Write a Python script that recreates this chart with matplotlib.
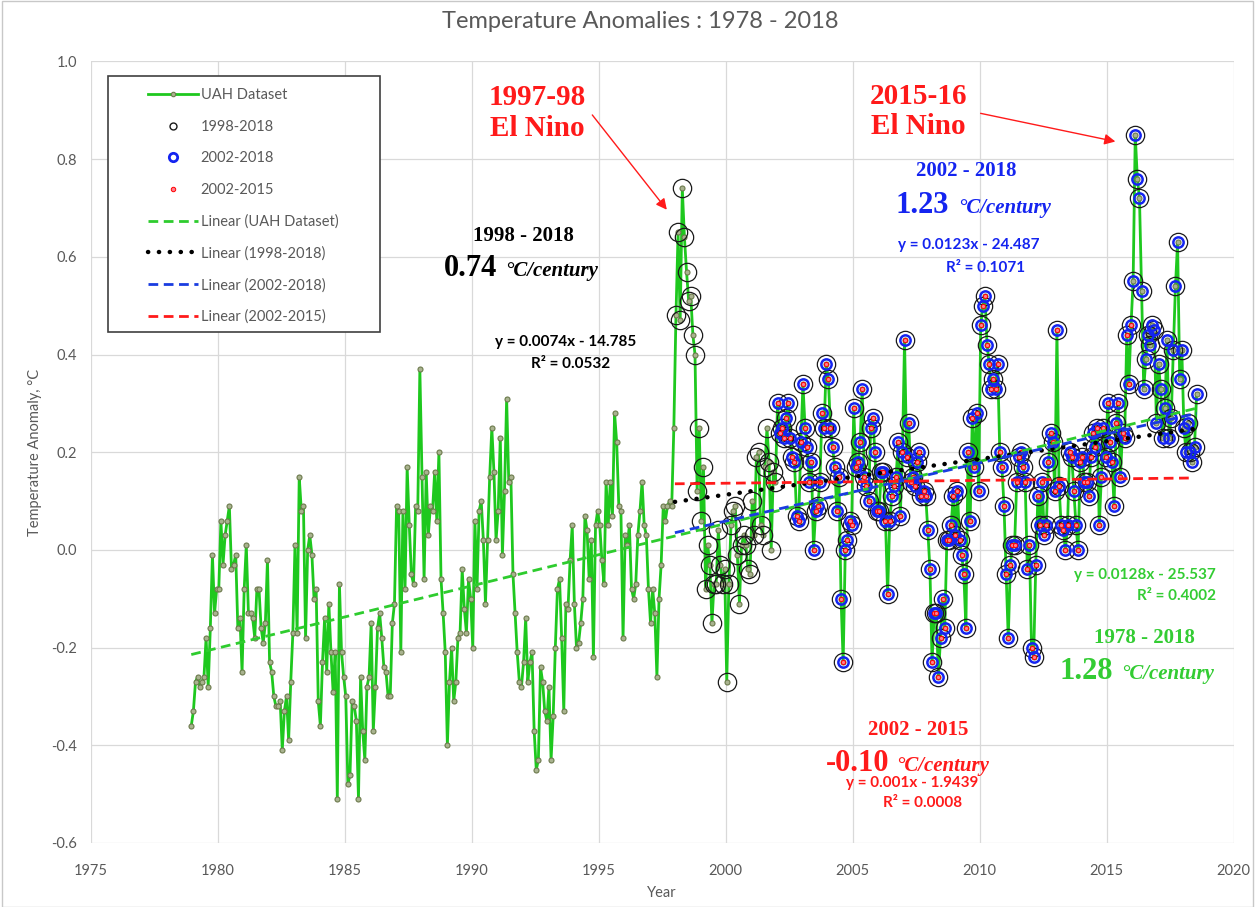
import numpy as np
import matplotlib
matplotlib.use('Agg')
import matplotlib.pyplot as plt
from matplotlib.lines import Line2D
from matplotlib.patches import Rectangle

plt.rcParams['font.family'] = ['Lato', 'DejaVu Sans']

# monthly UAH lower-troposphere anomalies (deg C)
first_year, first_month = 1978, 12
v1978 = [-0.36]
v1979 = [-0.33, -0.27, -0.26, -0.28, -0.27, -0.26, -0.18, -0.28, -0.16, -0.01, -0.13, -0.08]
v1980 = [-0.08, 0.06, -0.03, 0.03, 0.06, 0.09, -0.04, -0.03, -0.01, -0.16, -0.14, -0.25]
v1981 = [-0.08, 0.01, -0.13, -0.13, -0.14, -0.18, -0.08, -0.08, -0.16, -0.19, -0.15, -0.02]
v1982 = [-0.23, -0.25, -0.30, -0.32, -0.32, -0.31, -0.41, -0.33, -0.30, -0.39, -0.27, -0.17]
v1983 = [0.01, -0.17, 0.15, 0.08, 0.09, -0.18, 0.00, 0.03, -0.01, -0.10, -0.08, -0.31]
v1984 = [-0.36, -0.23, -0.14, -0.25, -0.11, -0.21, -0.29, -0.21, -0.51, -0.07, -0.21, -0.26]
v1985 = [-0.30, -0.48, -0.46, -0.31, -0.32, -0.35, -0.51, -0.26, -0.37, -0.43, -0.28, -0.26]
v1986 = [-0.15, -0.37, -0.28, -0.16, -0.13, -0.18, -0.24, -0.25, -0.30, -0.30, -0.15, -0.11]
v1987 = [0.09, 0.08, -0.21, 0.08, -0.08, 0.17, 0.05, -0.05, -0.07, 0.09, 0.08, 0.37]
v1988 = [0.15, -0.06, 0.16, 0.03, 0.09, 0.08, 0.16, 0.06, 0.20, -0.06, -0.13, -0.21]
v1989 = [-0.40, -0.27, -0.20, -0.31, -0.27, -0.18, -0.17, -0.04, -0.12, -0.17, -0.06, -0.10]
v1990 = [-0.20, 0.06, -0.08, 0.08, 0.10, 0.02, -0.11, 0.02, 0.15, 0.25, 0.16, 0.02]
v1991 = [0.08, 0.23, -0.01, 0.12, 0.31, 0.14, 0.15, -0.05, -0.13, -0.21, -0.27, -0.28]
v1992 = [-0.23, -0.14, -0.27, -0.23, -0.21, -0.37, -0.45, -0.43, -0.24, -0.27, -0.33, -0.35]
v1993 = [-0.28, -0.43, -0.34, -0.20, -0.08, -0.06, -0.18, -0.33, -0.11, -0.12, -0.02, 0.05]
v1994 = [-0.11, -0.20, -0.19, -0.15, -0.10, 0.07, 0.04, -0.06, 0.02, -0.22, 0.05, 0.08]
v1995 = [0.05, -0.02, -0.07, 0.14, 0.05, 0.14, 0.07, 0.28, 0.22, 0.09, 0.08, -0.18]
v1996 = [0.03, 0.01, 0.05, -0.08, -0.10, -0.07, 0.03, 0.08, 0.14, 0.05, 0.03, -0.08]
v1997 = [-0.15, -0.08, -0.13, -0.26, -0.10, -0.03, 0.09, 0.06, 0.09, 0.10, 0.09, 0.25]
v1998 = [0.48, 0.65, 0.47, 0.74, 0.64, 0.57, 0.51, 0.52, 0.44, 0.40, 0.12, 0.25]
v1999 = [0.06, 0.17, -0.08, 0.01, -0.03, -0.15, -0.07, -0.07, 0.04, -0.03, -0.07, -0.04]
v2000 = [-0.27, -0.07, 0.05, 0.08, 0.09, -0.01, -0.11, 0.01, 0.03, 0.01, -0.04, -0.05]
v2001 = [0.10, 0.03, 0.19, 0.20, 0.05, 0.03, 0.17, 0.25, 0.18, 0.00, 0.16, 0.14]
v2002 = [0.30, 0.24, 0.25, 0.23, 0.27, 0.30, 0.23, 0.19, 0.18, 0.07, 0.06, 0.22]
v2003 = [0.34, 0.25, 0.21, 0.14, 0.18, 0.00, 0.08, 0.09, 0.14, 0.28, 0.25, 0.38]
v2004 = [0.35, 0.25, 0.21, 0.17, 0.08, 0.15, -0.10, -0.23, 0.00, 0.02, 0.06, 0.05]
v2005 = [0.29, 0.17, 0.18, 0.22, 0.33, 0.15, 0.13, 0.10, 0.25, 0.27, 0.20, 0.08]
v2006 = [0.08, 0.16, 0.16, 0.06, -0.09, 0.06, 0.11, 0.13, 0.15, 0.22, 0.07, 0.20]
v2007 = [0.43, 0.19, 0.26, 0.14, 0.15, 0.13, 0.18, 0.20, 0.11, 0.12, 0.11, 0.04]
v2008 = [-0.04, -0.23, -0.13, -0.13, -0.26, -0.18, -0.10, -0.16, 0.02, 0.02, 0.05, 0.11]
v2009 = [0.03, 0.12, 0.02, -0.01, -0.05, -0.16, 0.20, 0.06, 0.27, 0.17, 0.28, 0.12]
v2010 = [0.46, 0.50, 0.52, 0.42, 0.38, 0.33, 0.35, 0.33, 0.38, 0.20, 0.17, 0.09]
v2011 = [-0.05, -0.18, -0.03, 0.01, 0.01, 0.14, 0.19, 0.20, 0.17, 0.14, -0.04, 0.01]
v2012 = [-0.20, -0.22, -0.03, 0.11, 0.05, 0.14, 0.03, 0.05, 0.18, 0.24, 0.22, 0.12]
v2013 = [0.45, 0.13, 0.05, 0.04, 0.00, 0.05, 0.20, 0.19, 0.12, 0.05, 0.00, 0.18]
v2014 = [0.19, 0.14, 0.14, 0.11, 0.19, 0.24, 0.21, 0.25, 0.05, 0.15, 0.25, 0.19]
v2015 = [0.30, 0.22, 0.18, 0.09, 0.26, 0.30, 0.15, 0.24, 0.23, 0.44, 0.34, 0.46]
v2016 = [0.55, 0.85, 0.76, 0.72, 0.53, 0.33, 0.39, 0.44, 0.42, 0.46, 0.45, 0.26]
v2017 = [0.38, 0.33, 0.23, 0.29, 0.43, 0.23, 0.27, 0.41, 0.54, 0.63, 0.35, 0.41]
v2018 = [0.25, 0.20, 0.26, 0.20, 0.18, 0.21, 0.32]

years_data = [v1978, v1979, v1980, v1981, v1982, v1983, v1984, v1985, v1986, v1987,
              v1988, v1989, v1990, v1991, v1992, v1993, v1994, v1995, v1996, v1997,
              v1998, v1999, v2000, v2001, v2002, v2003, v2004, v2005, v2006, v2007,
              v2008, v2009, v2010, v2011, v2012, v2013, v2014, v2015, v2016, v2017, v2018]
anom = np.array([v for yr in years_data for v in yr])
t = first_year + (first_month - 0.5) / 12 + np.arange(len(anom)) / 12.0

m98 = t >= 1998
m02 = t >= 2002
m0215 = (t >= 2002) & (t < 2016)

green = '#1ec81e'
blue = '#1424f0'
red = '#ff1a1a'
grey_txt = '#595959'

fig = plt.figure(figsize=(12.55, 9.07), dpi=100)
ax = fig.add_axes([0.0723, 0.0706, 0.9107, 0.8616])

ax.plot(t, anom, color=green, lw=2.0, marker='o', ms=3.6, mfc='#a9b38f', mec='#6d7a4d',
        mew=0.8, zorder=2)
ax.plot(t[m98], anom[m98], ls='none', marker='o', ms=13.2, mfc='none', mec='#1a1a1a',
        mew=0.9, zorder=3)
ax.plot(t[m02], anom[m02], ls='none', marker='o', ms=7.4, mfc='none', mec=blue,
        mew=1.8, zorder=4)
ax.plot(t[m0215], anom[m0215], ls='none', marker='o', ms=3.0, mfc='#ff7f90', mec='#ff0000',
        mew=0.7, zorder=5)

# linear trends
def trend(mask, x0, x1):
    k, b = np.polyfit(t[mask], anom[mask], 1)
    xx = np.array([x0, x1])
    return xx, k * xx + b

all_mask = np.ones_like(t, dtype=bool)
xx, yy = trend(all_mask, t[0], t[-1])
ax.plot(xx, yy, color='#2ecc2e', lw=2.0, ls=(0, (3.5, 2)), zorder=6)
xx, yy = trend(m98, 1998.0, t[-1])
ax.plot(xx, yy, color='black', lw=3.2, ls=(0, (0.05, 2.4)), dash_capstyle='round', zorder=6)
xx, yy = trend(m02, 1998.0, t[-1])
ax.plot(xx, yy, color='#1a3ce0', lw=2.0, ls=(0, (3.5, 2)), zorder=6)
xx, yy = trend(m0215, 1998.0, t[m0215][-1] + 2.4)
ax.plot(xx, yy, color=red, lw=2.0, ls=(0, (3.5, 2)), zorder=6)

ax.set_xlim(1975, 2020)
ax.set_ylim(-0.6, 1.0)
ax.set_xticks(np.arange(1975, 2021, 5))
ax.set_yticks(np.round(np.arange(-0.6, 1.01, 0.2), 1))
ax.set_yticklabels([f'{v:.1f}' for v in np.arange(-0.6, 1.01, 0.2)])
ax.grid(True, color='#d9d9d9', lw=0.9)
ax.set_axisbelow(True)
for s in ax.spines.values():
    s.set_visible(False)
ax.tick_params(axis='both', length=0, labelsize=10.5, colors=grey_txt)
ax.tick_params(axis='y', pad=10)
ax.tick_params(axis='x', pad=15)
ax.set_ylabel('Temperature Anomaly, °C', fontsize=10.5, color=grey_txt)
ax.yaxis.set_label_coords(-0.0426, 0.5)
ax.set_xlabel('Year', fontsize=10.5, color=grey_txt)
ax.xaxis.set_label_coords(0.5, -0.055)

fig.text(640 / 1255, 1 - 22 / 907, 'Temperature Anomalies : 1978 - 2018', ha='center',
         va='center', fontsize=17, color=grey_txt)

# legend
handles = [
    Line2D([], [], color=green, lw=2.0, marker='o', ms=3.2, mfc='#a9b38f', mec='#6d7a4d', mew=0.8),
    Line2D([], [], ls='none', marker='o', ms=5, mfc='none', mec='#1a1a1a', mew=1.0),
    Line2D([], [], ls='none', marker='o', ms=6, mfc='none', mec=blue, mew=2.0),
    Line2D([], [], ls='none', marker='o', ms=3.2, mfc='#ff7f90', mec='#ff0000', mew=0.7),
    Line2D([], [], color='#2ecc2e', lw=2.0, ls=(0, (3.5, 2))),
    Line2D([], [], color='black', lw=3.2, ls=(0, (0.05, 2.4)), dash_capstyle='round'),
    Line2D([], [], color='#1a3ce0', lw=2.0, ls=(0, (3.5, 2))),
    Line2D([], [], color=red, lw=2.0, ls=(0, (3.5, 2))),
]
labels = ['UAH Dataset', '1998-2018', '2002-2018', '2002-2015', 'Linear (UAH Dataset)',
          'Linear (1998-2018)', 'Linear (2002-2018)', 'Linear (2002-2015)']
frame = Rectangle((107.7 / 1255, 1 - 331.7 / 907), (380 - 107.7) / 1255, (331.7 - 76) / 907,
                  transform=fig.transFigure, fc='white', ec='#404040', lw=1.2, zorder=8)
ax.add_patch(frame)
leg = ax.legend(handles, labels, loc='upper left', bbox_to_anchor=(141 / 1255, 1 - 81 / 907),
                bbox_transform=fig.transFigure, frameon=False, fontsize=10.5, borderpad=0,
                labelspacing=1.2, handlelength=3.4, handletextpad=0.2, numpoints=1)
for txt in leg.get_texts():
    txt.set_color(grey_txt)
leg.set_zorder(10)

serif = 'Liberation Serif'

def head(x, y, s, c, size):
    ax.text(x, y, s, ha='center', va='center', fontsize=size, color=c, family=serif,
            weight='bold', zorder=9)

def rate(x_num, x_unit, y, num, c):
    ax.text(x_num, y, num, ha='right', va='baseline', fontsize=22, color=c, family=serif,
            weight='bold', zorder=9)
    ax.text(x_unit, y, '°C/century', ha='left', va='baseline', fontsize=15, color=c,
            family=serif, weight='bold', style='italic', zorder=9)

def eqn(x, y, s, c):
    ax.text(x, y, s, ha='center', va='center', fontsize=11, color=c, weight='bold', zorder=9)

head(1992.59, 0.927, '1997-98', red, 21)
head(1992.59, 0.862, 'El Nino', red, 21)
head(2007.60, 0.929, '2015-16', red, 21)
head(2007.60, 0.866, 'El Nino', red, 21)
ax.annotate('', xy=(1997.75, 0.692), xytext=(1994.68, 0.895),
            arrowprops=dict(arrowstyle='-|>', color=red, lw=1.0, mutation_scale=16), zorder=9)
ax.annotate('', xy=(2015.45, 0.835), xytext=(2009.93, 0.895),
            arrowprops=dict(arrowstyle='-|>', color=red, lw=1.0, mutation_scale=16), zorder=9)

head(1992.04, 0.643, '1998 - 2018', 'black', 15)
rate(1991.02, 1991.33, 0.560, '0.74', 'black')
eqn(1993.69, 0.426, 'y = 0.0074x - 14.785', 'black')
eqn(1993.89, 0.381, 'R² = 0.0532', 'black')

head(2009.46, 0.776, '2002 - 2018', blue, 15)
rate(2008.80, 2009.15, 0.690, '1.23', blue)
eqn(2009.58, 0.624, 'y = 0.0123x - 24.487', blue)
eqn(2010.25, 0.577, 'R² = 0.1071', blue)

gtxt = '#33cc33'
eqn(2016.52, -0.051, 'y = 0.0128x - 25.537', gtxt)
eqn(2017.74, -0.094, 'R² = 0.4002', gtxt)
head(2016.48, -0.180, '1978 - 2018', gtxt, 15)
rate(2015.26, 2015.57, -0.265, '1.28', gtxt)

head(2007.57, -0.368, '2002 - 2015', red, 15)
rate(2006.43, 2006.70, -0.452, '-0.10', red)
eqn(2007.33, -0.477, 'y = 0.001x - 1.9439', red)
eqn(2007.77, -0.518, 'R² = 0.0008', red)

fig.add_artist(Rectangle((0.0016, 0.0), 0.9968, 0.9985, transform=fig.transFigure,
                         fill=False, ec='#c8c8c8', lw=1.0))

fig.savefig('out.png', dpi=100)
